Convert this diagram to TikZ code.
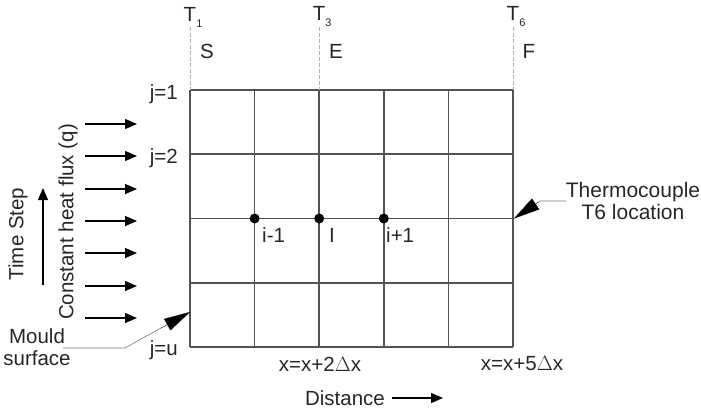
\documentclass[tikz,border=0pt]{standalone}
\usepackage{fontspec}
\setmainfont{Liberation Sans}
\usetikzlibrary{arrows.meta,calc}
\begin{document}
\begin{tikzpicture}[x=1pt,y=-1pt,
  every node/.style={font=\fontsize{20.5}{23}\selectfont, inner sep=0pt, text=black!85},
  gridline/.style={draw=black!68, line width=1.6pt},
  dashline/.style={draw=black!30, dashed, dash pattern=on 4pt off 2pt, line width=0.8pt},
  flux/.style={draw=black, line width=1.2pt, -{Triangle[length=12pt,width=10pt]}},
  leader/.style={draw=black!55, line width=0.6pt},
  bigtip/.style={-{Triangle[length=26pt,width=13pt]}},
  dot/.style={circle, fill=black, minimum size=10pt, inner sep=0pt}]
\useasboundingbox (0,0) rectangle (701,409);
% grid
\foreach \i in {0,...,5} {
  \draw[gridline] ({190+\i*64.6},90) -- ({190+\i*64.6},347);
}
\foreach \j in {0,...,4} {
  \draw[gridline] (190,{90+\j*64.25}) -- (513,{90+\j*64.25});
}
% dashed thermocouple lines
\coordinate (d1t) at (190,27); \coordinate (d1b) at (190,90);
\coordinate (d3t) at (319.2,27); \coordinate (d3b) at (319.2,90);
\coordinate (d6t) at (513,27); \coordinate (d6b) at (513,90);
\draw[dashline] (d1t) -- (d1b);
\draw[dashline] (d3t) -- (d3b);
\draw[dashline] (d6t) -- (d6b);
\node (T1) at (190,17) {T\rlap{\raisebox{-6pt}{\fontsize{11}{12}\selectfont 1}}};
\node (T3) at (319.2,17) {T\rlap{\raisebox{-6pt}{\fontsize{11}{12}\selectfont 3}}};
\node (T6) at (513,17) {T\rlap{\raisebox{-6pt}{\fontsize{11}{12}\selectfont 6}}};
\node (S) at (207,51) {S};
\node (E) at (336,51) {E};
\node (F) at (529,51) {F};
% row labels
\node[anchor=east] (j1) at (178,94) {j=1};
\node[anchor=east] (j2) at (178,158) {j=2};
\node[anchor=east] (ju) at (178,350) {j=u};
% nodes on grid
\node[dot] (im1) at (254.6,218.5) {};
\node[dot] (ii) at (319.2,218.5) {};
\node[dot] (ip1) at (383.8,218.5) {};
\node[anchor=west] (lim1) at (262,235) {i-1};
\node[anchor=west] (lii) at (329,235) {I};
\node[anchor=west] (lip1) at (386,235) {i+1};
% x labels
\node (x2) at (320,364) {x=x+2$\Delta$x};
\node (x5) at (522,364) {x=x+5$\Delta$x};
% distance
\node (dist) at (345,398) {Distance};
\coordinate (da) at (392,398);
\coordinate (db) at (443,398);
\draw[line width=1.2pt, -{Triangle[length=12pt,width=10pt]}] (da) -- (db);
% heat flux arrows
\foreach \k/\y in {1/124,2/156,3/189,4/221,5/253,6/286,7/318} {
  \coordinate (fa\k) at (85,\y);
  \coordinate (fb\k) at (137,\y);
  \draw[flux] (fa\k) -- (fb\k);
}
\node[rotate=90] (chf) at (68,222) {Constant heat flux (q)};
\node[rotate=90] (ts) at (18,234) {Time Step};
\coordinate (tsa) at (43,285);
\coordinate (tsb) at (43,188);
\draw[line width=1.2pt, -{Triangle[length=12pt,width=10pt]}] (tsa) -- (tsb);
% mould surface
\node[align=center] (mould) at (37,347) {Mould\\[-1pt]surface};
\coordinate (m1) at (63,348);
\coordinate (m2) at (125,348);
\coordinate (mtip) at (190,312);
\draw[leader] (m1) -- (m2) -- ($(m2)!0.7!(mtip)$);
\draw[line width=0.1pt, bigtip] ($(m2)!0.55!(mtip)$) -- (mtip);
% thermocouple
\node[align=center, font=\fontsize{21}{23.5}\selectfont] (tc) at (633,201) {Thermocouple\\[-1pt]T6 location};
\coordinate (t1) at (566,201);
\coordinate (t2) at (540,201);
\coordinate (ttip) at (514,218.5);
\draw[leader] (t1) -- (t2) -- ($(t2)!0.3!(ttip)$);
\draw[line width=0.1pt, bigtip] ($(t2)!0.05!(ttip)$) -- (ttip);
\end{tikzpicture}
\end{document}
